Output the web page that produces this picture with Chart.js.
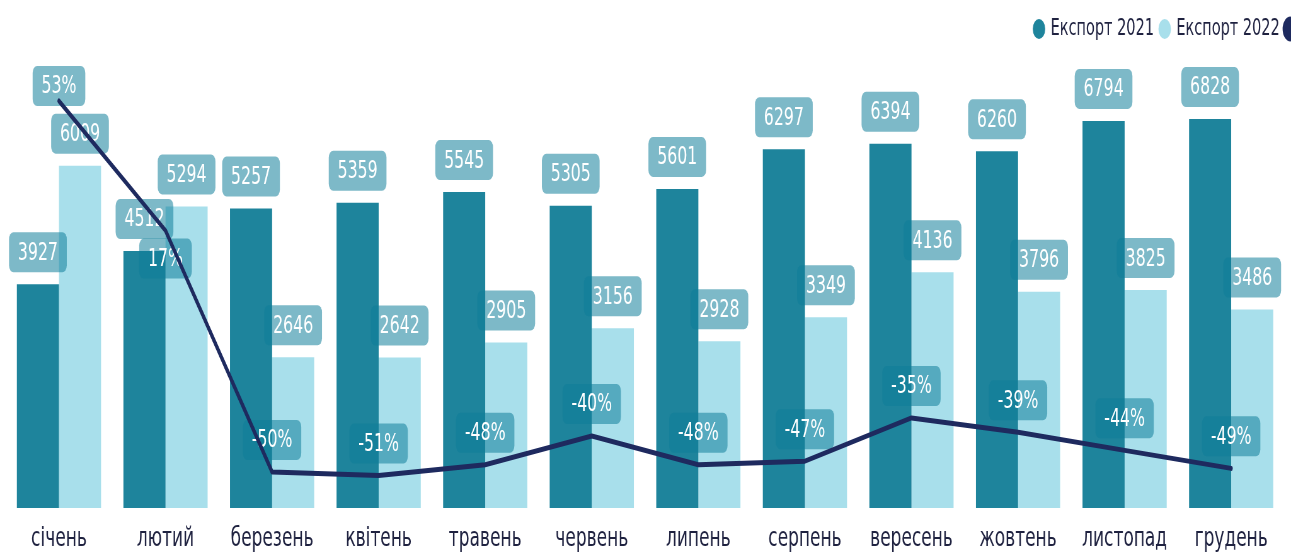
<!DOCTYPE html>
<html><head><meta charset="utf-8">
<script src="https://cdn.jsdelivr.net/npm/chart.js@4.4.1/dist/chart.umd.min.js"></script>
<style>html,body{margin:0;padding:0;background:#fff;overflow:hidden}
#c{display:block}</style></head>
<body><canvas id="c" width="2049" height="553" style="width:1291px;height:553px"></canvas>
<script>
const categories = ['січень','лютий','березень','квітень','травень','червень','липень','серпень','вересень','жовтень','листопад','грудень'];
const export2021 = [3927,4512,5257,5359,5545,5305,5601,6297,6394,6260,6794,6828];
const export2022 = [6009,5294,2646,2642,2905,3156,2928,3349,4136,3796,3825,3486];
const changePct = [53,17,-50,-51,-48,-40,-48,-47,-35,-39,-44,-49];
const seriesNames = ['Експорт 2021','Експорт 2022','Зміна, %'];

// label placement (style config, not data)
const pctLabelShift = [-15,28,-32,-32,-32,-32,-32,-32,-32,-32,-32,-32];

const FONT = '"DejaVu Sans", Verdana, sans-serif';
const DARK = '#1e849c', LIGHT = '#a8dfeb', NAVY = '#1e2a5f', TEXT = '#1f2240';
const BOX = 'rgba(15,126,154,0.54)';

const labelPlugin = {
  id: 'boxLabels',
  beforeDatasetDraw(chart, args) {
    if (args.meta.type !== 'line') return;
    const ctx = chart.ctx;
    ctx.save();
    ctx.font = '25px ' + FONT;
    ctx.textAlign = 'center';
    ctx.textBaseline = 'middle';
    const drawBox = (x, y, text) => {
      const w = ctx.measureText(text).width + 28;
      const h = 40;
      ctx.fillStyle = BOX;
      ctx.beginPath();
      ctx.roundRect(x - w / 2, y - h / 2, w, h, 7);
      ctx.fill();
      ctx.fillStyle = '#ffffff';
      ctx.fillText(text, x, y + 1);
    };
    [0, 1].forEach(di => {
      const meta = chart.getDatasetMeta(di);
      meta.data.forEach((el, i) => drawBox(el.x, el.y - 32, String(chart.data.datasets[di].data[i])));
    });
    args.meta.data.forEach((el, i) => drawBox(el.x, el.y + pctLabelShift[i], changePct[i] + '%'));
    ctx.restore();
  }
};

const legendShift = {
  id: 'legendShift',
  afterLayout(chart) {
    const L = chart.legend;
    const d = 1642 - (L.left + L.options.labels.padding);
    L.left += d; L.right += d;
  }
};

new Chart(document.getElementById('c'), {
  data: {
    labels: categories,
    datasets: [
      { type: 'bar', label: seriesNames[0], data: export2021, backgroundColor: DARK, borderWidth: 0,
        categoryPercentage: 0.79, barPercentage: 1.0, yAxisID: 'y', order: 1 },
      { type: 'bar', label: seriesNames[1], data: export2022, backgroundColor: LIGHT, borderWidth: 0,
        categoryPercentage: 0.79, barPercentage: 1.0, yAxisID: 'y', order: 1 },
      { type: 'line', label: seriesNames[2], data: changePct, borderColor: NAVY, backgroundColor: NAVY,
        borderWidth: 5, pointRadius: 0, tension: 0, borderCapStyle: 'round', borderJoinStyle: 'round',
        yAxisID: 'y1', order: 0 }
    ]
  },
  options: {
    responsive: false,
    animation: false,
    devicePixelRatio: 1,
    layout: { padding: { left: 9, right: 10.4, top: 7.5, bottom: 0 } },
    plugins: {
      legend: {
        position: 'top', align: 'start',
        labels: { usePointStyle: true, pointStyle: 'circle', boxWidth: 14, boxHeight: 14, padding: 10,
          color: TEXT, font: { family: FONT, size: 23 },
          sort: (a, b) => a.datasetIndex - b.datasetIndex }
      },
      tooltip: { enabled: false }
    },
    scales: {
      x: { grid: { display: false, drawTicks: false }, border: { display: false },
        ticks: { color: TEXT, font: { family: FONT, size: 27 }, padding: 15, maxRotation: 0, autoSkip: false },
        afterFit(scale) { scale.height = 45; } },
      y: { display: false, min: 0, max: 8030 },
      y1: { display: false, min: -60, max: 67 }
    }
  },
  plugins: [labelPlugin, legendShift]
});
</script>
</body></html>
